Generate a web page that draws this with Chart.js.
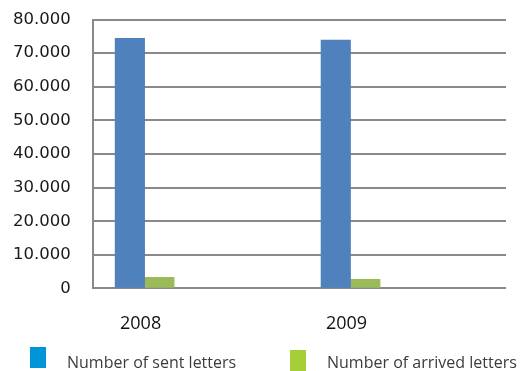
<!DOCTYPE html>
<html>
<head>
<meta charset="utf-8">
<script src="https://cdn.jsdelivr.net/npm/chart.js@4/dist/chart.umd.min.js"></script>
<style>
  html, body { margin: 0; padding: 0; background: #fff; }
  #wrap { position: relative; width: 529px; height: 371px; }
  #legend { position: absolute; left: 0; top: 0; width: 529px; height: 371px; pointer-events: none;
            font-family: "Open Sans", sans-serif; font-size: 16px; color: #3c3c3c; }
  .lg-box { position: absolute; width: 16px; height: 21px; }
  .lg-text { position: absolute; white-space: nowrap; line-height: 20px; }
</style>
</head>
<body>
<div id="wrap">
  <canvas id="c" width="529" height="371"></canvas>
  <div id="legend"></div>
</div>
<script>
// ---- data ----
const categories = ['2008', '2009'];
const seriesNames = ['Number of sent letters', 'Number of arrived letters'];
const sentLetters = [74400, 73900];
const arrivedLetters = [3300, 2700];
const yTicks = [0, 10000, 20000, 30000, 40000, 50000, 60000, 70000, 80000];

// ---- styles ----
const barColors = ['#4F81BD', '#9BBB59'];
const legendColors = ['#0095D6', '#A6CE39'];
const gridColor = '#898989';

const years = categories.map(Number);
const fmt = v => String(v).replace(/\B(?=(\d{3})+(?!\d))/g, '.');

const chart = new Chart(document.getElementById('c'), {
  type: 'bar',
  data: {
    datasets: [
      { label: seriesNames[0], data: years.map((x, i) => ({ x, y: sentLetters[i] })),
        backgroundColor: barColors[0], borderWidth: 0, barThickness: 29.5 },
      { label: seriesNames[1], data: years.map((x, i) => ({ x, y: arrivedLetters[i] })),
        backgroundColor: barColors[1], borderWidth: 0, barThickness: 29.5 }
    ]
  },
  options: {
    responsive: false,
    devicePixelRatio: 1,
    animation: false,
    layout: { padding: { left: 10, right: 23, top: 19.5, bottom: 12.5 } },
    plugins: { legend: { display: false }, tooltip: { enabled: false } },
    scales: {
      x: {
        type: 'linear',
        offset: false,
        min: 2007.748,
        max: 2009.755,
        afterBuildTicks: s => { s.ticks = years.map(v => ({ value: v })); },
        grid: { display: false, drawTicks: false },
        border: { display: false },
        ticks: {
          callback: v => String(v),
          font: { family: 'Open Sans', size: 18, lineHeight: 3.556 },
          color: '#111',
          padding: 3,
          labelOffset: -4,
          maxRotation: 0,
          autoSkip: false
        }
      },
      y: {
        min: 0,
        max: 80000,
        afterBuildTicks: s => { s.ticks = yTicks.map(v => ({ value: v })); },
        grid: { color: gridColor, lineWidth: 2, drawTicks: true, tickLength: 19, tickColor: 'rgba(0,0,0,0)' },
        border: { display: true, color: gridColor, width: 2 },
        ticks: {
          callback: v => fmt(v),
          font: { family: 'DejaVu Sans', size: 16.5 },
          color: '#1a1a1a',
          padding: 3
        }
      }
    }
  }
});

// ---- HTML legend built from chart datasets ----
const legendEl = document.getElementById('legend');
const legendPos = [{ box: 30, text: 67 }, { box: 290, text: 327 }];
chart.data.datasets.forEach((ds, i) => {
  const b = document.createElement('div');
  b.className = 'lg-box';
  b.style.left = legendPos[i].box + 'px';
  b.style.top = (i === 0 ? 347 : 350) + 'px';
  b.style.background = legendColors[i];
  legendEl.appendChild(b);
  const t = document.createElement('div');
  t.className = 'lg-text';
  t.style.left = legendPos[i].text + 'px';
  t.style.top = '352px';
  t.textContent = ds.label;
  legendEl.appendChild(t);
});
</script>
</body>
</html>
